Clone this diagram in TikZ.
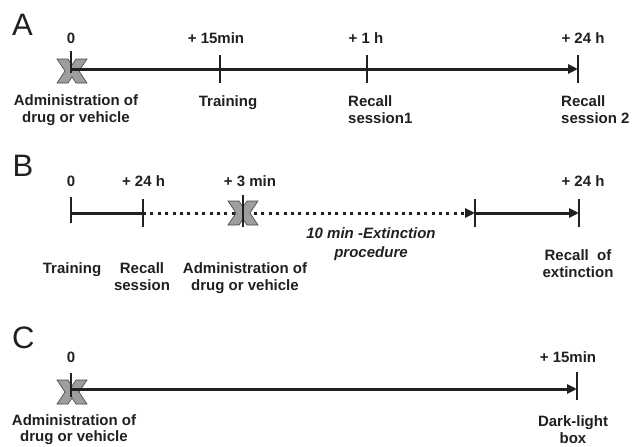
\documentclass[tikz,border=0pt]{standalone}
\usepackage{fontspec}
\setmainfont{Liberation Sans}
\usepackage{tikz}
\usetikzlibrary{arrows.meta}
\definecolor{inkBlack}{RGB}{35,31,32}
\definecolor{markGray}{RGB}{158,158,158}
\definecolor{markEdge}{RGB}{70,70,70}

\tikzset{
  timeline/.style={inkBlack,line width=3pt,-{Triangle[length=10pt,width=9pt]}},
  plainline/.style={inkBlack,line width=3pt},
  dotline/.style={inkBlack,line width=3pt,dash pattern=on 3pt off 4.4pt,
    -{Triangle[length=10pt,width=9pt]}},
  tickmark/.style={inkBlack,line width=2.5pt},
  lbl/.style={font=\fontsize{15}{17.5}\selectfont\bfseries,inner sep=0pt,text=inkBlack},
  panel/.style={font=\fontsize{31}{31}\selectfont,inner sep=0pt,anchor=base west,text=inkBlack},
  drugx/.pic={
    \filldraw[fill=markGray,draw=markEdge,line width=0.6pt]
      (-15,12) -- (-4,12) -- (0,6) -- (4,12) -- (15,12) -- (7,0) -- (15,-12)
      -- (4,-12) -- (0,-6) -- (-4,-12) -- (-15,-12) -- (-7,0) -- cycle;
  }
}

\begin{document}
\begin{tikzpicture}[x=1pt,y=-1pt]
  \useasboundingbox (0,0) rectangle (633,447);

  % A: injection, training, two recall sessions
  \node[panel] (pA) at (12,35) {A};
  \coordinate (a0) at (71,69);
  \coordinate (a1) at (220,69);
  \coordinate (a2) at (367,69);
  \coordinate (a3) at (578,69);
  \pic at (72,71) {drugx};
  \draw[timeline] (a0) -- (a3);
  \draw[tickmark] (71,51) -- (71,73);
  \foreach \c in {a1,a2,a3}
    \draw[tickmark] ([yshift=14pt]\c) -- ([yshift=-14pt]\c);
  \node[lbl,anchor=base] (tA0) at (71,43) {0};
  \node[lbl,anchor=base] (tA1) at (216,43) {+ 15min};
  \node[lbl,anchor=base] (tA2) at (366,43) {+ 1 h};
  \node[lbl,anchor=base] (tA3) at (583,43) {+ 24 h};
  \node[lbl,anchor=north,align=center] (drugA) at (76,94) {Administration of\\drug or vehicle};
  \node[lbl,anchor=north] (trainA) at (228,95) {Training};
  \node[lbl,anchor=north west,align=left] (recA1) at (348,95) {Recall\\session1};
  \node[lbl,anchor=north west,align=left] (recA2) at (561,95) {Recall\\session 2};

  % B: extinction after the recall session
  \node[panel] (pB) at (12.5,176) {B};
  \coordinate (b0) at (71,213);
  \coordinate (b1) at (143,213);
  \coordinate (bx) at (243,213);
  \coordinate (b2) at (475,213);
  \coordinate (b3) at (579,213);
  \draw[plainline] (b0) -- (b1);
  \draw[dotline] (b1) -- (b2);
  \draw[timeline] (b2) -- (b3);
  \pic at (bx) {drugx};
  \draw[tickmark] (71,197) -- (71,223);
  \draw[tickmark] (243,195) -- (243,227);
  \foreach \c in {b1,b2,b3}
    \draw[tickmark] ([yshift=14pt]\c) -- ([yshift=-14pt]\c);
  \node[lbl,anchor=base] (tB0) at (71,186) {0};
  \node[lbl,anchor=base] (tB1) at (143.5,186) {+ 24 h};
  \node[lbl,anchor=base] (tB2) at (250,186) {+ 3 min};
  \node[lbl,anchor=base] (tB3) at (583,186) {+ 24 h};
  \node[lbl,anchor=north,align=center,font=\fontsize{15}{19}\selectfont\bfseries\itshape]
    (extB) at (371,227) {10 min -Extinction\\procedure};
  \node[lbl,anchor=north] (trainB) at (72,262) {Training};
  \node[lbl,anchor=north,align=center] (recB) at (142,262) {Recall\\session};
  \node[lbl,anchor=north,align=center] (drugB) at (245,262) {Administration of\\drug or vehicle};
  \node[lbl,anchor=north,align=center] (recExt) at (578,249) {Recall\ \ of\\extinction};

  % C: injection before the dark-light box
  \node[panel] (pC) at (12,348) {C};
  \coordinate (c0) at (71,389);
  \coordinate (c1) at (577,389);
  \pic at (72,392) {drugx};
  \draw[timeline] (c0) -- (c1);
  \draw[tickmark] (71,373) -- (71,397);
  \draw[tickmark] (577,372) -- (577,400);
  \node[lbl,anchor=base] (tC0) at (71,362) {0};
  \node[lbl,anchor=base] (tC1) at (568,362) {+ 15min};
  \node[lbl,anchor=north,align=center,font=\fontsize{15}{16.5}\selectfont\bfseries]
    (drugC) at (74,414) {Administration of\\drug or vehicle};
  \node[lbl,anchor=north,align=center,font=\fontsize{15}{17}\selectfont\bfseries]
    (boxC) at (573,415) {Dark-light\\box};
\end{tikzpicture}
\end{document}
